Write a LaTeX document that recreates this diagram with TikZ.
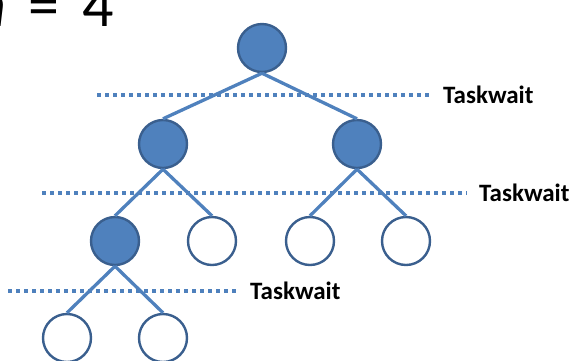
\documentclass[tikz,border=0pt]{standalone}
\usepackage{fontspec}
\setmainfont{Carlito}
\usetikzlibrary{calc}

\definecolor{nodeblue}{HTML}{4F81BD}
\definecolor{rimblue}{HTML}{3A5F8E}

\begin{document}
\begin{tikzpicture}[x=1pt, y=-1pt,
    task/.style={circle, inner sep=0pt, minimum size=48pt, line width=2.4pt, draw=rimblue},
    spawn/.style={task, fill=nodeblue},
    leaf/.style={task, fill=white},
    link/.style={draw=nodeblue, line width=3.3pt},
    barrier/.style={draw=nodeblue, line width=4pt, dash pattern=on 4pt off 4pt},
    waitlabel/.style={font=\bfseries\fontsize{25}{25}\selectfont, inner xsep=12pt, inner ysep=0pt, anchor=west}]
    \clip (0,0) rectangle (573,360);

    \node[anchor=base west, inner sep=0pt, font=\fontsize{62}{62}\selectfont] (eq) at (-26,26) {\textit{n}\hspace{0.36em}=\hspace{0.38em}4};

    \node[spawn] (a) at (262,48) {};
    
    \node[spawn] (b) at ($(a) + (-99, 96)$) {};
    
    \node[spawn] (c) at ($(a) + (95, 96)$) {};
    
    \node[spawn] (d) at ($(b) + (-48, 97)$) {};
    
    \node[leaf] (e) at ($(b) + (49, 97)$) {};
    
    \node[leaf] (f) at ($(c) + (-47, 97)$) {};
    
    \node[leaf] (g) at ($(c) + (49, 97)$) {};
    
    \node[leaf] (h) at ($(d) + (-48, 97)$) {};
    
    \node[leaf] (i) at ($(d) + (48, 97)$) {};
    
    
    
    \coordinate (s1) at (97,95);
    \node[waitlabel] (w1) at (431,95) {Taskwait};
    \draw[barrier] (s1) -- (w1);
    
    \coordinate (s2) at (42,193);
    \node[waitlabel] (w2) at (467,193) {Taskwait};
    \draw[barrier] (s2) -- (w2);
    
    \coordinate (s3) at (8,291);
    \node[waitlabel] (w3) at (238,291) {Taskwait};
    \draw[barrier] (s3) -- (w3);
    
    
    
    \draw[link] (a.south) -- (b.north);
    \draw[link] (a.south) -- (c.north);
    \draw[link] (b.south) -- (d.north);
    \draw[link] (b.south) -- (e.north);
    \draw[link] (c.south) -- (f.north);
    \draw[link] (c.south) -- (g.north);
    \draw[link] (d.south) -- (h.north);
    \draw[link] (d.south) -- (i.north);
    
\end{tikzpicture}
\end{document}
